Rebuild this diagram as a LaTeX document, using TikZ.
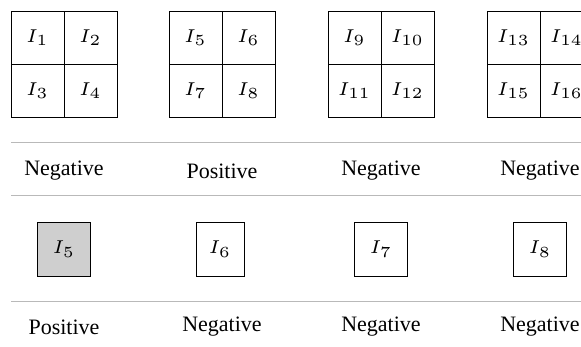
\documentclass[tikz,border=0pt]{standalone}
\usepackage{graphicx}
\usepackage{fontspec}
\newfontfamily\tnr{Liberation Serif}
\newcommand{\mI}[1]{\scalebox{3.1}{\fontsize{6}{7}\selectfont$I_{#1}$}}
\begin{document}
\begin{tikzpicture}[x=1pt,y=-1pt,
  cell/.style={draw, line width=0.9pt, minimum width=53pt, minimum height=53pt, inner sep=0pt},
  lbl/.style={font=\tnr\fontsize{22}{26}\selectfont, inner sep=0pt},
  sepline/.style={draw=gray!55, line width=1pt},
  onebox/.style={draw, line width=0.9pt, minimum width=53pt, minimum height=54pt, inner sep=0pt}]
\useasboundingbox (0,0) rectangle (581,347);
\clip (0,0) rectangle (581,347);
% grid 1
\node[cell] (a1) at (37.5,37.5) {\mI{1}};
\node[cell] (a2) at (90.5,37.5) {\mI{2}};
\node[cell] (a3) at (37.5,90.5) {\mI{3}};
\node[cell] (a4) at (90.5,90.5) {\mI{4}};
% grid 2
\node[cell] (b1) at (195.5,37.5) {\mI{5}};
\node[cell] (b2) at (248.5,37.5) {\mI{6}};
\node[cell] (b3) at (195.5,90.5) {\mI{7}};
\node[cell] (b4) at (248.5,90.5) {\mI{8}};
% grid 3
\node[cell] (c1) at (354.5,37.5) {\mI{9}};
\node[cell] (c2) at (407.5,37.5) {\mI{10}};
\node[cell] (c3) at (354.5,90.5) {\mI{11}};
\node[cell] (c4) at (407.5,90.5) {\mI{12}};
% grid 4
\node[cell] (d1) at (513.5,37.5) {\mI{13}};
\node[cell] (d2) at (566.5,37.5) {\mI{14}};
\node[cell] (d3) at (513.5,90.5) {\mI{15}};
\node[cell] (d4) at (566.5,90.5) {\mI{16}};
% separators
\draw[sepline] (11,143) -- (595,143);
\draw[sepline] (11,196) -- (595,196);
\draw[sepline] (11,302) -- (595,302);
% first row of labels
\node[lbl] (l1) at (64,171) {Negative};
\node[lbl] (l2) at (222,171) {Positive};
\node[lbl] (l3) at (381,171) {Negative};
\node[lbl] (l4) at (540,171) {Negative};
% single boxes
\node[onebox, fill=gray!38] (s1) at (64,249) {\mI{5}};
\node[onebox, minimum width=48pt] (s2) at (220,249) {\mI{6}};
\node[onebox] (s3) at (381,249) {\mI{7}};
\node[onebox] (s4) at (540,249) {\mI{8}};
% second row of labels
\node[lbl] (m1) at (64,327) {Positive};
\node[lbl] (m2) at (222,327) {Negative};
\node[lbl] (m3) at (381,327) {Negative};
\node[lbl] (m4) at (540,327) {Negative};
\end{tikzpicture}
\end{document}
